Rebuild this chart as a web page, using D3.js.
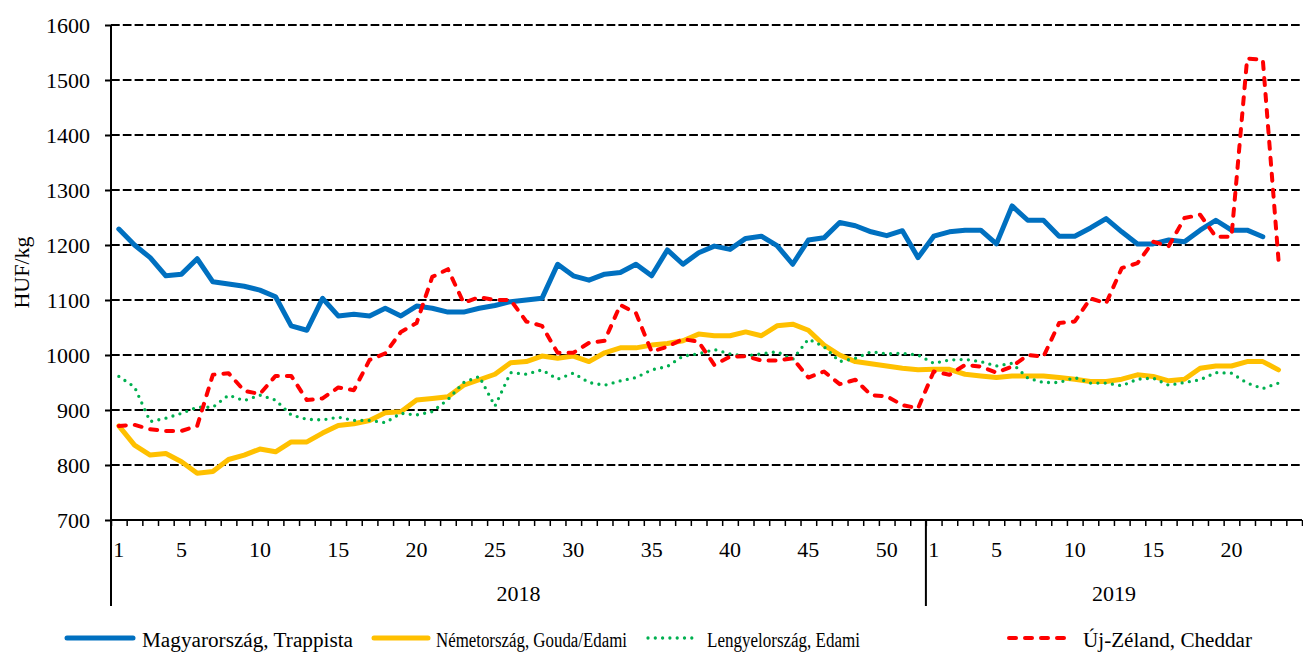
<!DOCTYPE html>
<html>
<head>
<meta charset="utf-8">
<script src="https://cdn.jsdelivr.net/npm/d3@7"></script>
<style>
  html, body { margin: 0; padding: 0; background: #fff; }
  svg { display: block; }
  text { font-family: "Liberation Serif", "Times New Roman", serif; fill: #000; }
</style>
</head>
<body>
<svg id="chart" width="1303" height="653"></svg>
<script>
// ---- data ----
const years = ["2018", "2019"];
const weeksPerYear = [52, 24];
const weekTickLabels = [1, 5, 10, 15, 20, 25, 30, 35, 40, 45, 50];
const yTicks = [700, 800, 900, 1000, 1100, 1200, 1300, 1400, 1500, 1600];
const yLabel = "HUF/kg";

const seriesNames = ["Magyarország, Trappista", "Németország, Gouda/Edami", "Lengyelország, Edami", "Új-Zéland, Cheddar"];

const huTrappista = [
  1229,1200,1177,1144,1147,1175,1133,1129,1125,1118,
  1106,1053,1045,1103,1071,1074,1071,1085,1071,1089,
  1085,1078,1078,1085,1090,1097,1100,1103,1165,1144,
  1136,1147,1150,1165,1144,1191,1165,1186,1198,1192,
  1212,1216,1199,1165,1209,1213,1241,1235,1224,1217,
  1226,1177,
  1216,1224,1227,1227,1202,1271,1245,1245,1216,1216,
  1231,1248,1224,1202,1202,1209,1206,1227,1245,1227,
  1227,1215
];
const deGoudaEdami = [
  871,836,818,821,806,785,788,810,818,829,
  824,842,842,858,872,875,881,895,897,918,
  921,924,945,955,965,986,988,998,994,998,
  988,1004,1013,1013,1018,1021,1026,1038,1035,1035,
  1042,1035,1053,1056,1045,1018,1000,988,984,980,
  976,973,
  974,974,965,962,959,962,962,962,959,956,
  952,952,956,964,961,953,956,976,980,980,
  988,988,973
];
const plEdami = [
  961,942,879,885,894,905,905,927,917,927,
  918,891,883,882,887,881,881,877,894,891,
  897,919,950,961,907,968,965,973,956,967,
  950,945,953,959,973,979,998,1002,1010,1002,
  998,1002,1006,992,1029,1015,988,994,1006,1002,
  1003,1000,
  985,991,992,988,980,985,958,950,950,959,
  949,949,944,956,958,945,950,955,968,967,
  949,939,949
];
const nzCheddar = [
  871,873,865,862,862,871,964,967,935,929,
  962,962,918,921,941,936,991,1003,1042,1058,
  1142,1156,1095,1105,1100,1100,1061,1053,1004,1004,
  1022,1026,1091,1076,1006,1015,1029,1024,982,997,
  998,990,990,994,959,970,947,955,927,925,
  909,903,
  970,964,982,979,968,979,1000,997,1058,1061,
  1103,1094,1158,1167,1206,1198,1249,1255,1215,1215,
  1539,1537,1173
];

// ---- build categories ----
const categories = [];
years.forEach((yr, i) => {
  for (let w = 1; w <= weeksPerYear[i]; w++) categories.push(yr + "-" + w);
});

const series = [
  { name: seriesNames[0], values: huTrappista, color: "#0070C0", width: 5, dash: null, cap: "round" },
  { name: seriesNames[1], values: deGoudaEdami, color: "#FFC000", width: 5, dash: null, cap: "round" },
  { name: seriesNames[2], values: plEdami, color: "#00B050", width: 3.3, dash: "0,7.3", cap: "round" },
  { name: seriesNames[3], values: nzCheddar, color: "#FF0000", width: 4, dash: "7,9", cap: "round" }
];

// ---- layout ----
const L = 111, R = 1302, T = 25, B = 520;
const svg = d3.select("#chart");

const x = d3.scaleBand().domain(categories).range([L, R]).padding(0);
const xi = d3.scaleLinear().domain([0, categories.length]).range([L, R]);
const y = d3.scaleLinear().domain([700, 1600]).range([B, T]);
const bw = x.bandwidth();

// gridlines
svg.append("g")
  .selectAll("line")
  .data(yTicks.filter(v => v > 700))
  .join("line")
  .attr("x1", L).attr("x2", R)
  .attr("y1", d => y(d)).attr("y2", d => y(d))
  .attr("stroke", "#000").attr("stroke-width", 2)
  .attr("stroke-dasharray", "8.7,3.1");

// y axis
const yAxis = svg.append("g")
  .attr("transform", `translate(${L},0)`)
  .call(d3.axisLeft(y).tickValues(yTicks).tickSize(6).tickPadding(15).tickFormat(d3.format("d")));
yAxis.select(".domain").attr("stroke", "#000").attr("stroke-width", 2).attr("d", `M0,${T}V${B}`);
yAxis.selectAll(".tick line").attr("stroke", "#000").attr("stroke-width", 2);
yAxis.selectAll(".tick text").style("font-size", "22px").style("font-family", "Liberation Serif");

// x axis tick marks at every week boundary
const xTickAxis = svg.append("g")
  .attr("transform", `translate(0,${B})`)
  .call(d3.axisBottom(xi).tickValues(d3.range(categories.length + 1)).tickSize(6).tickFormat(""));
xTickAxis.select(".domain").attr("stroke", "#000").attr("stroke-width", 2).attr("d", `M${L},0H${R}`);
xTickAxis.selectAll(".tick line").attr("stroke", "#000").attr("stroke-width", 1.5);

// x axis week labels
const labelCats = categories.filter(c => weekTickLabels.includes(+c.split("-")[1]));
const xLabAxis = svg.append("g")
  .attr("transform", `translate(0,${B})`)
  .call(d3.axisBottom(x).tickValues(labelCats).tickSize(0).tickPadding(21.5).tickFormat(c => c.split("-")[1]));
xLabAxis.select(".domain").remove();
xLabAxis.selectAll(".tick text").style("font-size", "22px").style("font-family", "Liberation Serif");

// year separators and labels
let start = 0;
const yearSpans = years.map((yr, i) => {
  const s = { year: yr, from: start, to: start + weeksPerYear[i] };
  start += weeksPerYear[i];
  return s;
});
svg.append("g").selectAll("line")
  .data(yearSpans)
  .join("line")
  .attr("x1", d => xi(d.from)).attr("x2", d => xi(d.from))
  .attr("y1", B).attr("y2", 606)
  .attr("stroke", "#000").attr("stroke-width", 2);
svg.append("g").selectAll("text")
  .data(yearSpans)
  .join("text")
  .attr("x", d => (xi(d.from) + xi(d.to)) / 2)
  .attr("y", 601)
  .attr("text-anchor", "middle")
  .style("font-size", "22px")
  .text(d => d.year);

// y label
svg.append("text")
  .attr("transform", `translate(29,${(T + B) / 2}) rotate(-90)`)
  .attr("text-anchor", "middle")
  .style("font-size", "22px")
  .text(yLabel);

// lines
const line = d3.line()
  .defined(d => d != null)
  .x((d, i) => x(categories[i]) + bw / 2)
  .y(d => y(d))
  .curve(d3.curveLinear);

svg.append("g").selectAll("path")
  .data(series)
  .join("path")
  .attr("d", s => line(s.values))
  .attr("fill", "none")
  .attr("stroke", s => s.color)
  .attr("stroke-width", s => s.width)
  .attr("stroke-dasharray", s => s.dash)
  .attr("stroke-linecap", s => s.cap)
  .attr("stroke-linejoin", "round");

// legend
const legendPos = [
  { x1: 67, x2: 133, tx: 142, tw: 211 },
  { x1: 374, x2: 428, tx: 436, tw: 191 },
  { x1: 648, x2: 693, tx: 707, tw: 153 },
  { x1: 1009, x2: 1071, tx: 1083, tw: 169 }
];
const lg = svg.append("g").selectAll("g")
  .data(series)
  .join("g");
lg.append("line")
  .attr("x1", (d, i) => legendPos[i].x1).attr("x2", (d, i) => legendPos[i].x2)
  .attr("y1", 638).attr("y2", 638)
  .attr("stroke", d => d.color)
  .attr("stroke-width", d => d.width)
  .attr("stroke-dasharray", d => d.dash)
  .attr("stroke-linecap", d => d.cap);
lg.append("text")
  .attr("x", (d, i) => legendPos[i].tx)
  .attr("y", 646.5)
  .attr("textLength", (d, i) => legendPos[i].tw)
  .attr("lengthAdjust", "spacingAndGlyphs")
  .style("font-size", "20.5px")
  .text(d => d.name);
</script>
</body>
</html>
